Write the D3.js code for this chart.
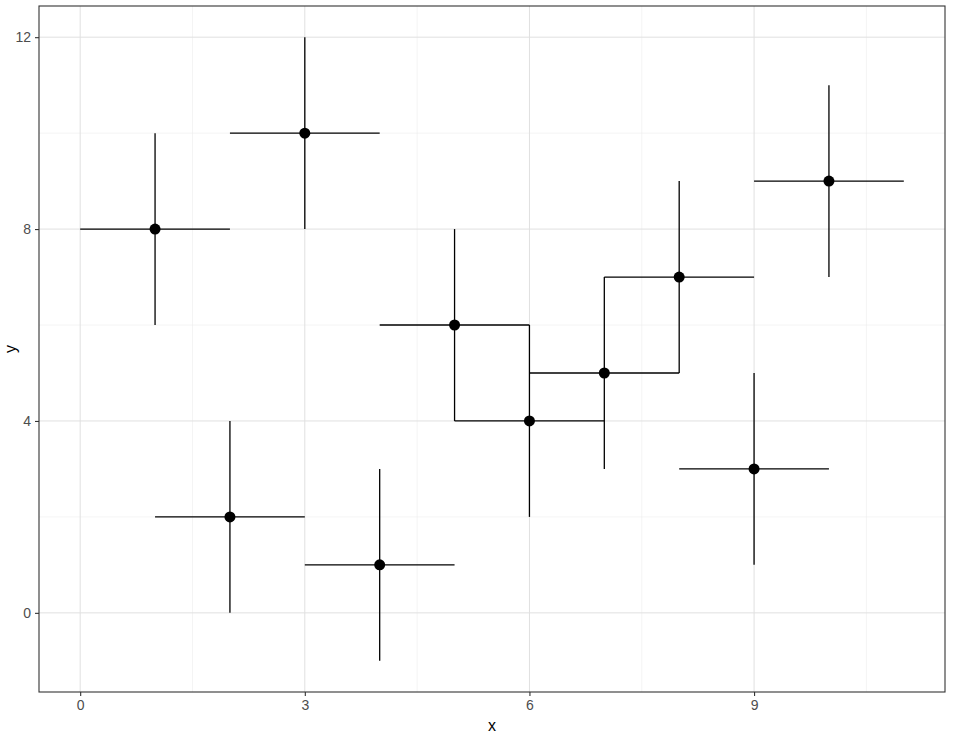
<!DOCTYPE html>
<html>
<head>
<meta charset="utf-8">
<script src="https://cdn.jsdelivr.net/npm/d3@7"></script>
<style>
  body { margin: 0; background: #fff; }
  svg { display: block; font-family: "Liberation Sans", Arial, sans-serif; }
</style>
</head>
<body>
<svg id="plotSvg"></svg>
<script>
// data
var xs = [1, 2, 3, 4, 5, 6, 7, 8, 9, 10];
var ys = [8, 2, 10, 1, 6, 4, 5, 7, 3, 9];
var xErr = [1, 1, 1, 1, 1, 1, 1, 1, 1, 1];
var yErr = [2, 2, 2, 2, 2, 2, 2, 2, 2, 2];
var xTicks = [0, 3, 6, 9];
var yTicks = [0, 4, 8, 12];
var xMinor = [1.5, 4.5, 7.5, 10.5];
var yMinor = [2, 6, 10];

var width = 955, height = 742;
var svg = d3.select("#plotSvg").attr("width", width).attr("height", height);

var margin = { top: 6, right: 10, bottom: 50, left: 39 };
var pw = width - margin.left - margin.right;
var ph = height - margin.top - margin.bottom;

var data = xs.map(function(d, i) {
  return { x: d, y: ys[i], ex: xErr[i], ey: yErr[i] };
});

var xmin = d3.min(data, function(d) { return d.x - d.ex; });
var xmax = d3.max(data, function(d) { return d.x + d.ex; });
var ymin = d3.min(data, function(d) { return d.y - d.ey; });
var ymax = d3.max(data, function(d) { return d.y + d.ey; });
var xpad = (xmax - xmin) * 0.05, ypad = (ymax - ymin) * 0.05;

var x = d3.scaleLinear().domain([xmin - xpad, xmax + xpad]).range([0, pw]);
var y = d3.scaleLinear().domain([ymin - ypad, ymax + ypad]).range([ph, 0]);

var g = svg.append("g").attr("transform", "translate(" + margin.left + "," + margin.top + ")");

// grid
g.selectAll(".xminor").data(xMinor).enter().append("line")
  .attr("x1", x).attr("x2", x).attr("y1", 0).attr("y2", ph)
  .attr("stroke", "#ebebeb").attr("stroke-width", 0.55);
g.selectAll(".yminor").data(yMinor).enter().append("line")
  .attr("y1", y).attr("y2", y).attr("x1", 0).attr("x2", pw)
  .attr("stroke", "#ebebeb").attr("stroke-width", 0.55);
g.selectAll(".xmajor").data(xTicks).enter().append("line")
  .attr("x1", x).attr("x2", x).attr("y1", 0).attr("y2", ph)
  .attr("stroke", "#e0e0e0").attr("stroke-width", 1);
g.selectAll(".ymajor").data(yTicks).enter().append("line")
  .attr("y1", y).attr("y2", y).attr("x1", 0).attr("x2", pw)
  .attr("stroke", "#e0e0e0").attr("stroke-width", 1);

// error bars
g.selectAll(".hbar").data(data).enter().append("line")
  .attr("x1", function(d) { return x(d.x - d.ex); })
  .attr("x2", function(d) { return x(d.x + d.ex); })
  .attr("y1", function(d) { return y(d.y); })
  .attr("y2", function(d) { return y(d.y); })
  .attr("stroke", "#000").attr("stroke-width", 1.3);
g.selectAll(".vbar").data(data).enter().append("line")
  .attr("x1", function(d) { return x(d.x); })
  .attr("x2", function(d) { return x(d.x); })
  .attr("y1", function(d) { return y(d.y - d.ey); })
  .attr("y2", function(d) { return y(d.y + d.ey); })
  .attr("stroke", "#000").attr("stroke-width", 1.3);

// points
g.selectAll("circle").data(data).enter().append("circle")
  .attr("cx", function(d) { return x(d.x); })
  .attr("cy", function(d) { return y(d.y); })
  .attr("r", 5.5)
  .attr("fill", "#000");

// panel border
g.append("rect").attr("width", pw).attr("height", ph)
  .attr("fill", "none").attr("stroke", "#333333").attr("stroke-width", 1.1);

// axes
var xAxis = g.append("g").attr("transform", "translate(0," + ph + ")")
  .call(d3.axisBottom(x).tickValues(xTicks).tickSize(4).tickPadding(4).tickFormat(d3.format("d")));
var yAxis = g.append("g")
  .call(d3.axisLeft(y).tickValues(yTicks).tickSize(4).tickPadding(4).tickFormat(d3.format("d")));
[xAxis, yAxis].forEach(function(a) {
  a.attr("font-size", null).attr("font-family", null);
  a.select(".domain").remove();
  a.selectAll(".tick line").attr("stroke", "#333333").attr("stroke-width", 1.1);
  a.selectAll(".tick text").attr("fill", "#4d4d4d")
    .style("font-size", "14px")
    .style("font-family", "Liberation Sans, Arial, sans-serif");
});

// titles
svg.append("text")
  .attr("x", margin.left + pw / 2).attr("y", 731)
  .attr("text-anchor", "middle").style("font-size", "16px").attr("fill", "#000")
  .text("x");
svg.append("text")
  .attr("transform", "translate(16," + (margin.top + ph / 2) + ") rotate(-90)")
  .attr("text-anchor", "middle").style("font-size", "16px").attr("fill", "#000")
  .text("y");
</script>
</body>
</html>
